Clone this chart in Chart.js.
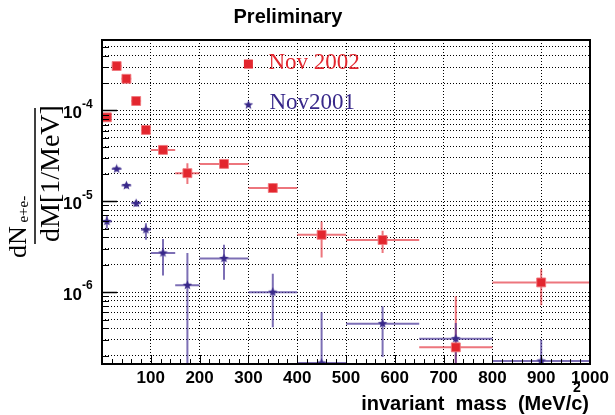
<!DOCTYPE html>
<html>
<head>
<meta charset="utf-8">
<script src="https://cdn.jsdelivr.net/npm/chart.js@4.4.1/dist/chart.umd.min.js"></script>
<style>
  html, body { margin: 0; padding: 0; background: #fff; }
  #wrap { width: 615px; height: 415px; position: relative; }
</style>
</head>
<body>
<div id="wrap"><canvas id="massChart"></canvas></div>
<script>
// bin centres and half widths, MeV/c^2
const massBins = [10, 30, 50, 70, 90, 125, 175, 250, 350, 450, 575, 725, 900];
const binHalfWidth = [10, 10, 10, 10, 10, 25, 25, 50, 50, 50, 75, 75, 100];

// Nov 2002 (red squares), dN/dM [1/MeV]
const nov2002 = [8.4e-5, 3.08e-4, 2.23e-4, 1.27e-4, 6.1e-5, 3.68e-5, 2.04e-5, 2.58e-5, 1.40e-5, 4.28e-6, 3.75e-6, 2.47e-7, 1.28e-6];
const nov2002Hi = [8.9e-5, 3.2e-4, 2.33e-4, 1.34e-4, 6.5e-5, 3.9e-5, 2.63e-5, 2.8e-5, 1.58e-5, 6.0e-6, 4.74e-6, 9.0e-7, 1.8e-6];
const nov2002Lo = [7.9e-5, 2.96e-4, 2.13e-4, 1.2e-4, 5.7e-5, 3.45e-5, 1.55e-5, 2.32e-5, 1.24e-5, 2.41e-6, 2.7e-6, 1e-8, 7.2e-7];

// Nov2001 (stars)
const nov2001 = [6.0e-6, 2.27e-5, 1.49e-5, 9.5e-6, 4.87e-6, 2.7e-6, 1.19e-6, 2.35e-6, 1.0e-6, 1.66e-7, 4.5e-7, 3.08e-7, 1.75e-7];
const nov2001Hi = [7.0e-6, 2.4e-5, 1.6e-5, 1.03e-5, 5.75e-6, 3.85e-6, 2.7e-6, 3.33e-6, 1.6e-6, 6.0e-7, 7.0e-7, 4.58e-7, 3.0e-7];
const nov2001Lo = [5.0e-6, 2.14e-5, 1.38e-5, 8.7e-6, 3.78e-6, 1.53e-6, 1e-8, 1.37e-6, 4.1e-7, 1e-8, 1.94e-7, 1e-8, 1e-8];

const xTickLabels = [100, 200, 300, 400, 500, 600, 700, 800, 900, 1000];
const yDecades = [-6, -5, -4];

const RED = '#e3262e';
const BLUE = '#38288a';

// filled five point star used as marker
function makeStar(size, color) {
  const c = document.createElement('canvas');
  c.width = size; c.height = size;
  const g = c.getContext('2d');
  const cx = size / 2, cy = size / 2, ro = size / 2 - 0.5, ri = ro * 0.42;
  g.beginPath();
  for (let i = 0; i < 10; i++) {
    const r = i % 2 ? ri : ro;
    const a = -Math.PI / 2 + i * Math.PI / 5;
    g.lineTo(cx + r * Math.cos(a), cy + r * Math.sin(a));
  }
  g.closePath();
  g.fillStyle = color;
  g.fill();
  return c;
}
const starImg = makeStar(11, BLUE);

function points(vals) {
  return vals.map((v, i) => ({ x: massBins[i], y: v }));
}

const errorBars = {
  id: 'errorBars',
  beforeDatasetsDraw(chart) {
    const { ctx, chartArea: a, scales: { x, y } } = chart;
    ctx.save();
    ctx.beginPath();
    ctx.rect(a.left, a.top, a.right - a.left, a.bottom - a.top);
    ctx.clip();
    const sets = [
      [nov2002, nov2002Hi, nov2002Lo, 'rgba(228,45,55,0.65)'],
      [nov2001, nov2001Hi, nov2001Lo, 'rgba(70,50,150,0.7)']
    ];
    sets.forEach(([v, hi, lo, col]) => {
      ctx.strokeStyle = col;
      ctx.lineWidth = 2;
      v.forEach((val, i) => {
        const px = x.getPixelForValue(massBins[i]);
        const py = y.getPixelForValue(val);
        ctx.beginPath();
        ctx.moveTo(x.getPixelForValue(massBins[i] - binHalfWidth[i]), py);
        ctx.lineTo(x.getPixelForValue(massBins[i] + binHalfWidth[i]), py);
        ctx.moveTo(px, y.getPixelForValue(hi[i]));
        ctx.lineTo(px, Math.min(y.getPixelForValue(lo[i]), a.bottom + 5));
        ctx.stroke();
      });
    });
    ctx.restore();
  }
};

const decorations = {
  id: 'decorations',
  afterDraw(chart) {
    const { ctx, chartArea: a, scales: { x, y } } = chart;
    ctx.save();
    ctx.strokeStyle = '#000';
    ctx.fillStyle = '#000';

    // inward ticks, x axis
    ctx.lineWidth = 1;
    for (let v = 0; v <= 1000; v += 20) {
      const px = Math.round(x.getPixelForValue(v)) + 0.5;
      const len = v % 100 === 0 ? 9 : 5;
      ctx.beginPath();
      ctx.moveTo(px, a.bottom);
      ctx.lineTo(px, a.bottom - len);
      ctx.stroke();
    }
    // inward ticks, y axis
    y.ticks.forEach(t => {
      const py = Math.round(y.getPixelForValue(t.value)) + 0.5;
      const len = t.major ? 15 : 7;
      ctx.lineWidth = t.major ? 1.5 : 1;
      ctx.beginPath();
      ctx.moveTo(a.left, py);
      ctx.lineTo(a.left + len, py);
      ctx.stroke();
    });

    // frame
    ctx.lineWidth = 2;
    ctx.strokeRect(a.left, a.top, a.right - a.left, a.bottom - a.top);

    // x tick labels
    ctx.font = 'bold 17px "Liberation Sans", Arial, sans-serif';
    ctx.textAlign = 'center';
    ctx.textBaseline = 'middle';
    xTickLabels.forEach(v => {
      ctx.fillText(String(v), x.getPixelForValue(v), 378);
    });

    // y tick labels 10^n
    yDecades.forEach(e => {
      const py = y.getPixelForValue(Math.pow(10, e));
      ctx.font = 'bold 17px "Liberation Sans", Arial, sans-serif';
      ctx.textAlign = 'right';
      ctx.textBaseline = 'middle';
      ctx.fillText('10', 82, py + 3);
      ctx.font = 'bold 12px "Liberation Sans", Arial, sans-serif';
      ctx.textAlign = 'left';
      ctx.fillText(String(e), 82, py - 6);
    });

    // title
    ctx.font = 'bold 20px "Liberation Sans", Arial, sans-serif';
    ctx.textAlign = 'center';
    ctx.textBaseline = 'middle';
    ctx.fillText('Preliminary', 288, 17);

    // x axis title
    ctx.font = 'bold 20px "Liberation Sans", Arial, sans-serif';
    ctx.textBaseline = 'alphabetic';
    ctx.textAlign = 'right';
    const closeW = ctx.measureText(')').width;
    const endX = 589;
    ctx.fillText('invariant  mass  (MeV/c', endX - closeW, 410);
    ctx.fillText(')', endX, 410);
    const cW = ctx.measureText('c').width;
    ctx.font = 'bold 14px "Liberation Sans", Arial, sans-serif';
    ctx.textAlign = 'center';
    ctx.fillText('2', endX - closeW - cW / 2, 392);

    // y axis title (rotated fraction)
    ctx.save();
    ctx.translate(59, 242);
    ctx.rotate(-Math.PI / 2);
    ctx.textAlign = 'left';
    ctx.textBaseline = 'alphabetic';
    ctx.font = '28px "Liberation Serif", "Times New Roman", serif';
    ctx.fillText('dM[1/MeV]', 0, 0);
    ctx.restore();
    ctx.lineWidth = 1.5;
    ctx.beginPath();
    ctx.moveTo(35, 108);
    ctx.lineTo(35, 244);
    ctx.stroke();
    ctx.save();
    ctx.translate(26, 242);
    ctx.rotate(-Math.PI / 2);
    ctx.font = '26px "Liberation Serif", "Times New Roman", serif';
    ctx.fillText('dN', 0, 0);
    const dnW = ctx.measureText('dN').width;
    ctx.font = '15px "Liberation Serif", "Times New Roman", serif';
    ctx.fillText('e+e-', dnW + 1, 2);
    ctx.restore();

    // legend
    const lx = x.getPixelForValue(300);
    const ly1 = y.getPixelForValue(3.24e-4);
    const ly2 = y.getPixelForValue(1.15e-4);
    ctx.fillStyle = RED;
    ctx.fillRect(lx - 4.5, ly1 - 4.5, 9, 9);
    ctx.drawImage(starImg, lx - 5.5, ly2 - 5.5);
    ctx.font = '23px "Liberation Serif", "Times New Roman", serif';
    ctx.textAlign = 'left';
    ctx.textBaseline = 'middle';
    ctx.fillText('Nov 2002', lx + 20, ly1 - 1);
    ctx.fillStyle = BLUE;
    ctx.fillText('Nov2001', lx + 21, ly2 - 2);
    ctx.restore();
  }
};

const ctx = document.getElementById('massChart').getContext('2d');
const chart = new Chart(ctx, {
  type: 'scatter',
  data: {
    datasets: [{
      label: 'Nov 2002',
      data: points(nov2002),
      pointStyle: 'rect',
      pointRadius: 6.3,
      backgroundColor: RED,
      borderColor: 'rgba(240,120,125,0.9)',
      borderWidth: 1
    }, {
      label: 'Nov2001',
      data: points(nov2001),
      pointStyle: starImg,
      pointRadius: 5
    }]
  },
  plugins: [errorBars, decorations],
  options: {
    responsive: true,
    maintainAspectRatio: false,
    animation: false,
    events: [],
    layout: { padding: { left: 102, right: 25, top: 40, bottom: 51 } },
    plugins: { legend: { display: false }, tooltip: { enabled: false } },
    scales: {
      x: {
        type: 'linear',
        min: 0,
        max: 1000,
        ticks: { display: false, stepSize: 100 },
        grid: { color: '#000', lineWidth: 1, drawTicks: false },
        border: { display: false, dash: [1, 2] }
      },
      y: {
        type: 'logarithmic',
        min: 1.62e-7,
        max: 5.96e-4,
        ticks: { display: false },
        afterBuildTicks(scale) {
          const t = [];
          for (let e = -7; e <= -4; e++) {
            for (let m = 1; m <= 9; m++) {
              const v = m * Math.pow(10, e);
              if (v >= scale.min && v <= scale.max) t.push({ value: v, major: m === 1 });
            }
          }
          scale.ticks = t;
        },
        grid: { color: '#000', lineWidth: 1, drawTicks: false },
        border: { display: false, dash: [1, 2] }
      }
    }
  }
});
</script>
</body>
</html>
